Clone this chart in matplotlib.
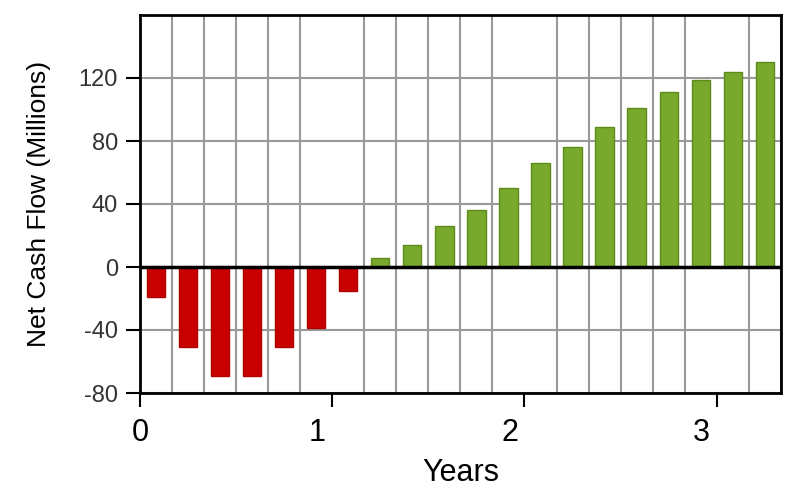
import numpy as np
import matplotlib.pyplot as plt
import matplotlib.transforms as mtransforms
from matplotlib.ticker import MultipleLocator

plt.rcParams['font.family'] = ['Liberation Sans', 'DejaVu Sans']
plt.rcParams['axes.unicode_minus'] = False

# net cash flow per two-month period (millions)
period_years = np.arange(20) / 6 + 1 / 12
cash_flow = [-19, -51, -69, -69, -51, -39, -15,
             6, 14, 26, 36, 50, 66, 76, 89, 101, 111, 119, 124, 130]
y_ticks = [-80, -40, 0, 40, 80, 120]
x_ticks = [0, 1, 2, 3]

fig = plt.figure(figsize=(8, 5), dpi=100)
ax = fig.add_axes([0.175, 0.214, 0.801, 0.756])

colors = ['#c80000' if v < 0 else '#78a82c' for v in cash_flow]
edges = ['#b00000' if v < 0 else '#5e8a1c' for v in cash_flow]
ax.bar(period_years, cash_flow, width=0.57 / 6, color=colors,
       edgecolor=edges, linewidth=1.0, zorder=3)

ax.axhline(0, color='black', linewidth=2.5, zorder=4)

ax.set_xlim(0, 20 / 6)
ax.set_ylim(-80, 160)
ax.set_xticks(x_ticks)
ax.set_yticks(y_ticks)
ax.xaxis.set_minor_locator(MultipleLocator(1 / 6))
ax.tick_params(axis='x', which='minor', length=0)
ax.tick_params(axis='both', which='major', direction='out', length=10,
               width=1.5, color='black')
ax.tick_params(axis='x', labelsize=22, pad=8)
ax.tick_params(axis='y', labelsize=17, labelcolor='#333333', pad=6)

# the year labels after 0 sit a little left of their ticks in the original
shift = mtransforms.ScaledTranslation(-15 / 100, 0, fig.dpi_scale_trans)
for lbl in ax.get_xticklabels()[1:]:
    lbl.set_transform(lbl.get_transform() + shift)

ax.grid(True, axis='x', which='minor', color='#999999', linewidth=1.5, zorder=0)
ax.grid(True, axis='y', which='major', color='#999999', linewidth=1.5, zorder=0)
ax.set_axisbelow(True)

for s in ax.spines.values():
    s.set_linewidth(2)
    s.set_color('black')

ax.set_xlabel('Years', fontsize=22, labelpad=7)
ax.set_ylabel('Net Cash Flow (Millions)', fontsize=19, labelpad=20)

fig.savefig('out.png', dpi=100)
